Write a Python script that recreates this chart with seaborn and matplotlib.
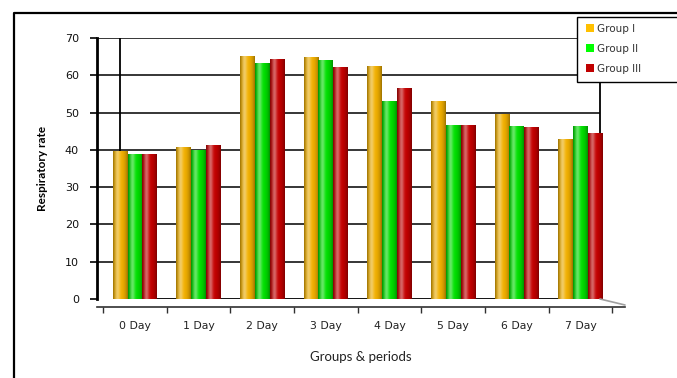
import numpy as np
import pandas as pd
import seaborn as sns
import matplotlib
matplotlib.use("Agg")
import matplotlib.pyplot as plt
from matplotlib.patches import Patch, Rectangle
from matplotlib.lines import Line2D
from matplotlib.colors import to_rgb

periods = ["0 Day", "1 Day", "2 Day", "3 Day", "4 Day", "5 Day", "6 Day", "7 Day"]
groups = ["Group I", "Group II", "Group III"]
group_i = [39.6, 40.9, 65.3, 65.0, 62.5, 53.0, 49.6, 43.0]
group_ii = [39.0, 40.0, 63.2, 64.2, 53.0, 46.8, 46.4, 46.4]
group_iii = [38.8, 41.2, 64.4, 62.2, 56.5, 46.6, 46.0, 44.4]
y_ticks = [0, 10, 20, 30, 40, 50, 60, 70]

colors = ["#F2B000", "#00E000", "#C40000"]
legend_colors = ["#FFC000", "#00FF00", "#C00000"]

df = pd.DataFrame({
    "period": periods * 3,
    "rate": group_i + group_ii + group_iii,
    "group": [g for g in groups for _ in periods],
})

sns.set_style("white")
plt.rcParams["font.family"] = ["DejaVu Sans"]

W, H = 677, 378
fig = plt.figure(figsize=(W / 100, H / 100), dpi=100)
fig.patch.set_facecolor("white")

# plot area: x from 97 to 625 px, y=0 at 299 px, y=70 at 38 px
ax = fig.add_axes([97 / W, (H - 299) / H, (625 - 97) / W, (299 - 38) / H])
ax.set_facecolor("none")

sns.barplot(data=df, x="period", y="rate", hue="group", order=periods,
            hue_order=groups, palette=colors, width=0.7, saturation=1,
            ax=ax, legend=False, zorder=3, linewidth=0)

XL, XR = -0.597, 7.70
WALL_L, WALL_R = -0.236, 7.31
ax.set_xlim(XL, XR)
ax.set_ylim(0, 70)

# cylinder-style shading on each bar
def shade(c, n=64):
    base = np.array(to_rgb(c))
    t = np.linspace(0, 1, n)
    hl = 0.40 * np.exp(-((t - 0.30) / 0.17) ** 2)
    dark = 0.5 + 0.5 * np.sin(np.pi * np.clip(t * 0.94 + 0.03, 0, 1)) ** 0.55
    rgb = base[None, :] * dark[:, None]
    rgb = rgb + (1 - rgb) * hl[:, None]
    img = np.ones((1, n, 4))
    img[0, :, :3] = np.clip(rgb, 0, 1)
    return img

bars = [p for p in ax.patches if p.get_height() > 0]
for i, p in enumerate(bars):
    gi = i // len(periods)
    x0, w, h = p.get_x(), p.get_width(), p.get_height()
    im = ax.imshow(shade(colors[gi]), extent=[x0, x0 + w, 0, h],
                   aspect="auto", interpolation="bilinear", zorder=3.5)
    im.set_clip_path(p)
ax.set_xlim(XL, XR)
ax.set_ylim(0, 70)

# back wall and gridlines
ax.hlines(y_ticks[1:], XL, WALL_R, color="black", lw=1.1, zorder=1)
ax.hlines([0], WALL_L, WALL_R, color="black", lw=1.3, zorder=1)
ax.vlines([WALL_L, WALL_R], 0, 70, color="black", lw=1.3, zorder=1)

for s in ["top", "right"]:
    ax.spines[s].set_visible(False)
ax.spines["left"].set_color("black")
ax.spines["left"].set_linewidth(2.0)
ax.spines["bottom"].set_color("#303030")
ax.spines["bottom"].set_linewidth(1.2)
ax.spines["bottom"].set_position(("outward", 6))

ax.set_yticks(y_ticks)
ax.set_yticklabels([str(v) for v in y_ticks], fontsize=8, color="#111111")
ax.tick_params(axis="y", length=5, width=1.2, color="black", pad=8, left=True)

ax.set_xticks(np.arange(-0.5, len(periods), 1))
ax.set_xticklabels([])
ax.set_xticks(np.arange(len(periods)), minor=True)
ax.set_xticklabels(periods, minor=True, fontsize=7.8, color="#222222")
ax.tick_params(axis="x", which="major", length=4, width=1, color="#303030",
               bottom=True)
ax.tick_params(axis="x", which="minor", length=0, pad=10)

ax.set_xlabel("Groups & periods", fontsize=9.5, family=["Lato", "DejaVu Sans"],
              color="#222222", labelpad=14)
ax.set_ylabel("Respiratory rate", fontsize=8.5, fontweight="bold",
              family=["Lato", "DejaVu Sans"], color="black", labelpad=12)

# floor edge on the right
fig.add_artist(Line2D([600 / W, 625 / W], [(H - 299) / H, (H - 305) / H],
                      color="#A0A0A0", lw=1.2))

# outer chart border
fig.add_artist(Line2D([14 / W, 14 / W, 1.0], [0, (H - 13) / H, (H - 13) / H],
                      color="black", lw=1.6))

# legend box
fig.add_artist(Rectangle((577 / W, (H - 82) / H), 0.2, 65 / H,
                         transform=fig.transFigure, facecolor="white",
                         edgecolor="black", lw=1.0, zorder=5))
handles = [Patch(facecolor=c, edgecolor="none") for c in legend_colors]
leg = fig.legend(handles, groups, loc="upper left",
                 bbox_to_anchor=(576 / W, (H - 14) / H), frameon=False,
                 fontsize=7.5, handlelength=0.75, handleheight=0.75,
                 handletextpad=0.35, labelspacing=0.95, borderpad=0.45)
leg.set_zorder(6)
for t in leg.get_texts():
    t.set_color("#333333")

fig.savefig("out.png", dpi=100)
